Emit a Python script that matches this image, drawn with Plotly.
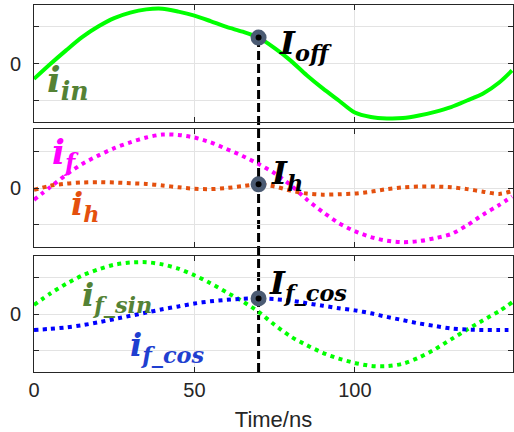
import plotly.graph_objects as go
from plotly.subplots import make_subplots

# ---------------- data ----------------
T = [0, 5, 10, 15, 20, 25, 30, 35, 40, 45, 50, 55, 60, 65, 70, 75, 80, 85, 90, 95,
     100, 105, 110, 115, 120, 125, 130, 135, 140, 145, 149]

I_IN = [-0.42, -0.02, 0.36, 0.72, 1.01, 1.24, 1.39, 1.48, 1.50, 1.42, 1.31, 1.16, 1.00,
        0.87, 0.71, 0.42, 0.08, -0.32, -0.68, -1.01, -1.34, -1.46, -1.50, -1.49, -1.42,
        -1.32, -1.19, -1.01, -0.82, -0.52, -0.19]

I_F = [-0.32, 0.02, 0.36, 0.65, 0.88, 1.08, 1.24, 1.37, 1.45, 1.44, 1.37, 1.24, 1.06,
       0.87, 0.65, 0.40, 0.08, -0.31, -0.65, -0.95, -1.17, -1.33, -1.43, -1.47, -1.44,
       -1.36, -1.25, -1.01, -0.72, -0.46, -0.23]

I_H = [-0.05, 0.06, 0.12, 0.15, 0.16, 0.15, 0.13, 0.11, 0.07, 0.02, -0.02, -0.03, 0.00,
       0.05, 0.10, 0.04, -0.07, -0.15, -0.18, -0.17, -0.15, -0.10, -0.03, 0.02, 0.04,
       0.04, 0.02, -0.03, -0.10, -0.16, -0.08]

I_F_SIN = [0.25, 0.56, 0.83, 1.06, 1.23, 1.36, 1.42, 1.43, 1.37, 1.25, 1.07, 0.85, 0.60,
           0.35, 0.06, -0.30, -0.62, -0.86, -1.07, -1.23, -1.35, -1.43, -1.44, -1.37, -1.20,
           -0.97, -0.70, -0.43, -0.17, 0.08, 0.32]

I_F_COS = [-0.44, -0.41, -0.37, -0.31, -0.23, -0.14, -0.05, 0.04, 0.13, 0.21, 0.29, 0.35,
           0.39, 0.42, 0.43, 0.41, 0.37, 0.30, 0.23, 0.16, 0.10, 0.02, -0.08, -0.17, -0.26,
           -0.33, -0.40, -0.43, -0.44, -0.44, -0.44]

T_OFF = 70
X_TICKS = [0, 50, 100]
Y_TICKS = [-1, 0, 1]
Y_TICKTEXT = ["", "0", ""]

# ---------------- figure ----------------
GREEN = "#00ff00"
MAGENTA = "#ff00ff"
ORANGE = "#e4500e"
BLUE = "#0000ff"
AXC = "#262626"
SANS = "Liberation Sans, Arial"

fig = make_subplots(rows=3, cols=1, shared_xaxes=True)
k = T.index(T_OFF)

def add_series(y, color, row, dotted):
    fig.add_trace(go.Scatter(
        x=T, y=y, mode="lines",
        line=dict(color=color, width=4,
                  dash="4px,4.5px" if dotted else "solid", shape="spline", smoothing=0.8),
        showlegend=False, hoverinfo="skip"), row=row, col=1)

add_series(I_IN, GREEN, 1, False)
add_series(I_F, MAGENTA, 2, True)
add_series(I_H, ORANGE, 2, True)
add_series(I_F_SIN, GREEN, 3, True)
add_series(I_F_COS, BLUE, 3, True)

for row, ser in [(1, I_IN), (2, I_H), (3, I_F_COS)]:
    fig.add_trace(go.Scatter(
        x=[T_OFF], y=[ser[k]], mode="markers",
        marker=dict(size=11, color="#000000", line=dict(color="#4b5b73", width=5)),
        showlegend=False, hoverinfo="skip"), row=row, col=1)

YR = [-1.6, 1.6]
doms = [[0.681, 1.0], [0.3406, 0.662], [0.0, 0.316]]
for i in range(3):
    ax = "yaxis" if i == 0 else f"yaxis{i+1}"
    fig.layout[ax].update(
        domain=doms[i], range=YR, tickvals=Y_TICKS, ticktext=Y_TICKTEXT,
        showgrid=True, gridcolor="#e3e3e3", gridwidth=1, zeroline=False,
        showline=True, linecolor=AXC, linewidth=1, mirror="ticks",
        ticks="inside", ticklen=5, tickcolor=AXC, ticklabelstandoff=8,
        tickfont=dict(family=SANS, size=20, color=AXC))
    xa = "xaxis" if i == 0 else f"xaxis{i+1}"
    fig.layout[xa].update(
        range=[0, 149.3], tickvals=X_TICKS,
        showgrid=True, gridcolor="#e3e3e3", gridwidth=1, zeroline=False,
        showline=True, linecolor=AXC, linewidth=1, mirror="ticks",
        ticks="inside", ticklen=5, tickcolor=AXC, showticklabels=(i == 2),
        tickfont=dict(family=SANS, size=20, color=AXC))

fig.layout.xaxis3.title = dict(text="Time/ns", standoff=13,
                               font=dict(family=SANS, size=22, color=AXC))

# dashed vertical line at T_OFF from the top marker down to the bottom axis
top_frac = doms[0][0] + (I_IN[k] - YR[0]) / (YR[1] - YR[0]) * (doms[0][1] - doms[0][0])
fig.add_shape(type="line", xref="x", yref="paper", x0=T_OFF, x1=T_OFF,
              y0=0, y1=top_frac + 0.01, layer="below",
              line=dict(color="#000000", width=3, dash="9px,4px"))

SERIF = "DejaVu Serif"

def label(text, x, y, row, color, size):
    xr = "x" if row == 1 else f"x{row}"
    yr = "y" if row == 1 else f"y{row}"
    fig.add_annotation(x=x, y=y, xref=xr, yref=yr, text=text, showarrow=False,
                       font=dict(family=SERIF, size=size, color=color))

label("<b><i>i<sub>in</sub></i></b>", 10.5, -0.5, 1, "#548235", 36)
label("<b><i>I<sub>off</sub></i></b>", 84.5, 0.5, 1, "#000000", 32)
label("<b><i>i<sub>f</sub></i></b>", 9.7, 0.9, 2, MAGENTA, 34)
label("<b><i>i<sub>h</sub></i></b>", 16, -0.5, 2, ORANGE, 32)
label("<b><i>I<sub>h</sub></i></b>", 79, 0.36, 2, "#000000", 32)
label("<b><i>i<sub>f_sin</sub></i></b>", 26, 0.47, 3, "#548235", 32)
label("<b><i>i<sub>f_cos</sub></i></b>", 41.7, -0.9, 3, "#1f3fd0", 32)
label("<b><i>I<sub>f_cos</sub></i></b>", 85.4, 0.79, 3, "#000000", 32)

fig.update_layout(
    width=514, height=432,
    margin=dict(l=34, r=1, t=5, b=60),
    paper_bgcolor="white", plot_bgcolor="rgba(0,0,0,0)",
    showlegend=False)

fig.write_html("out.html")
